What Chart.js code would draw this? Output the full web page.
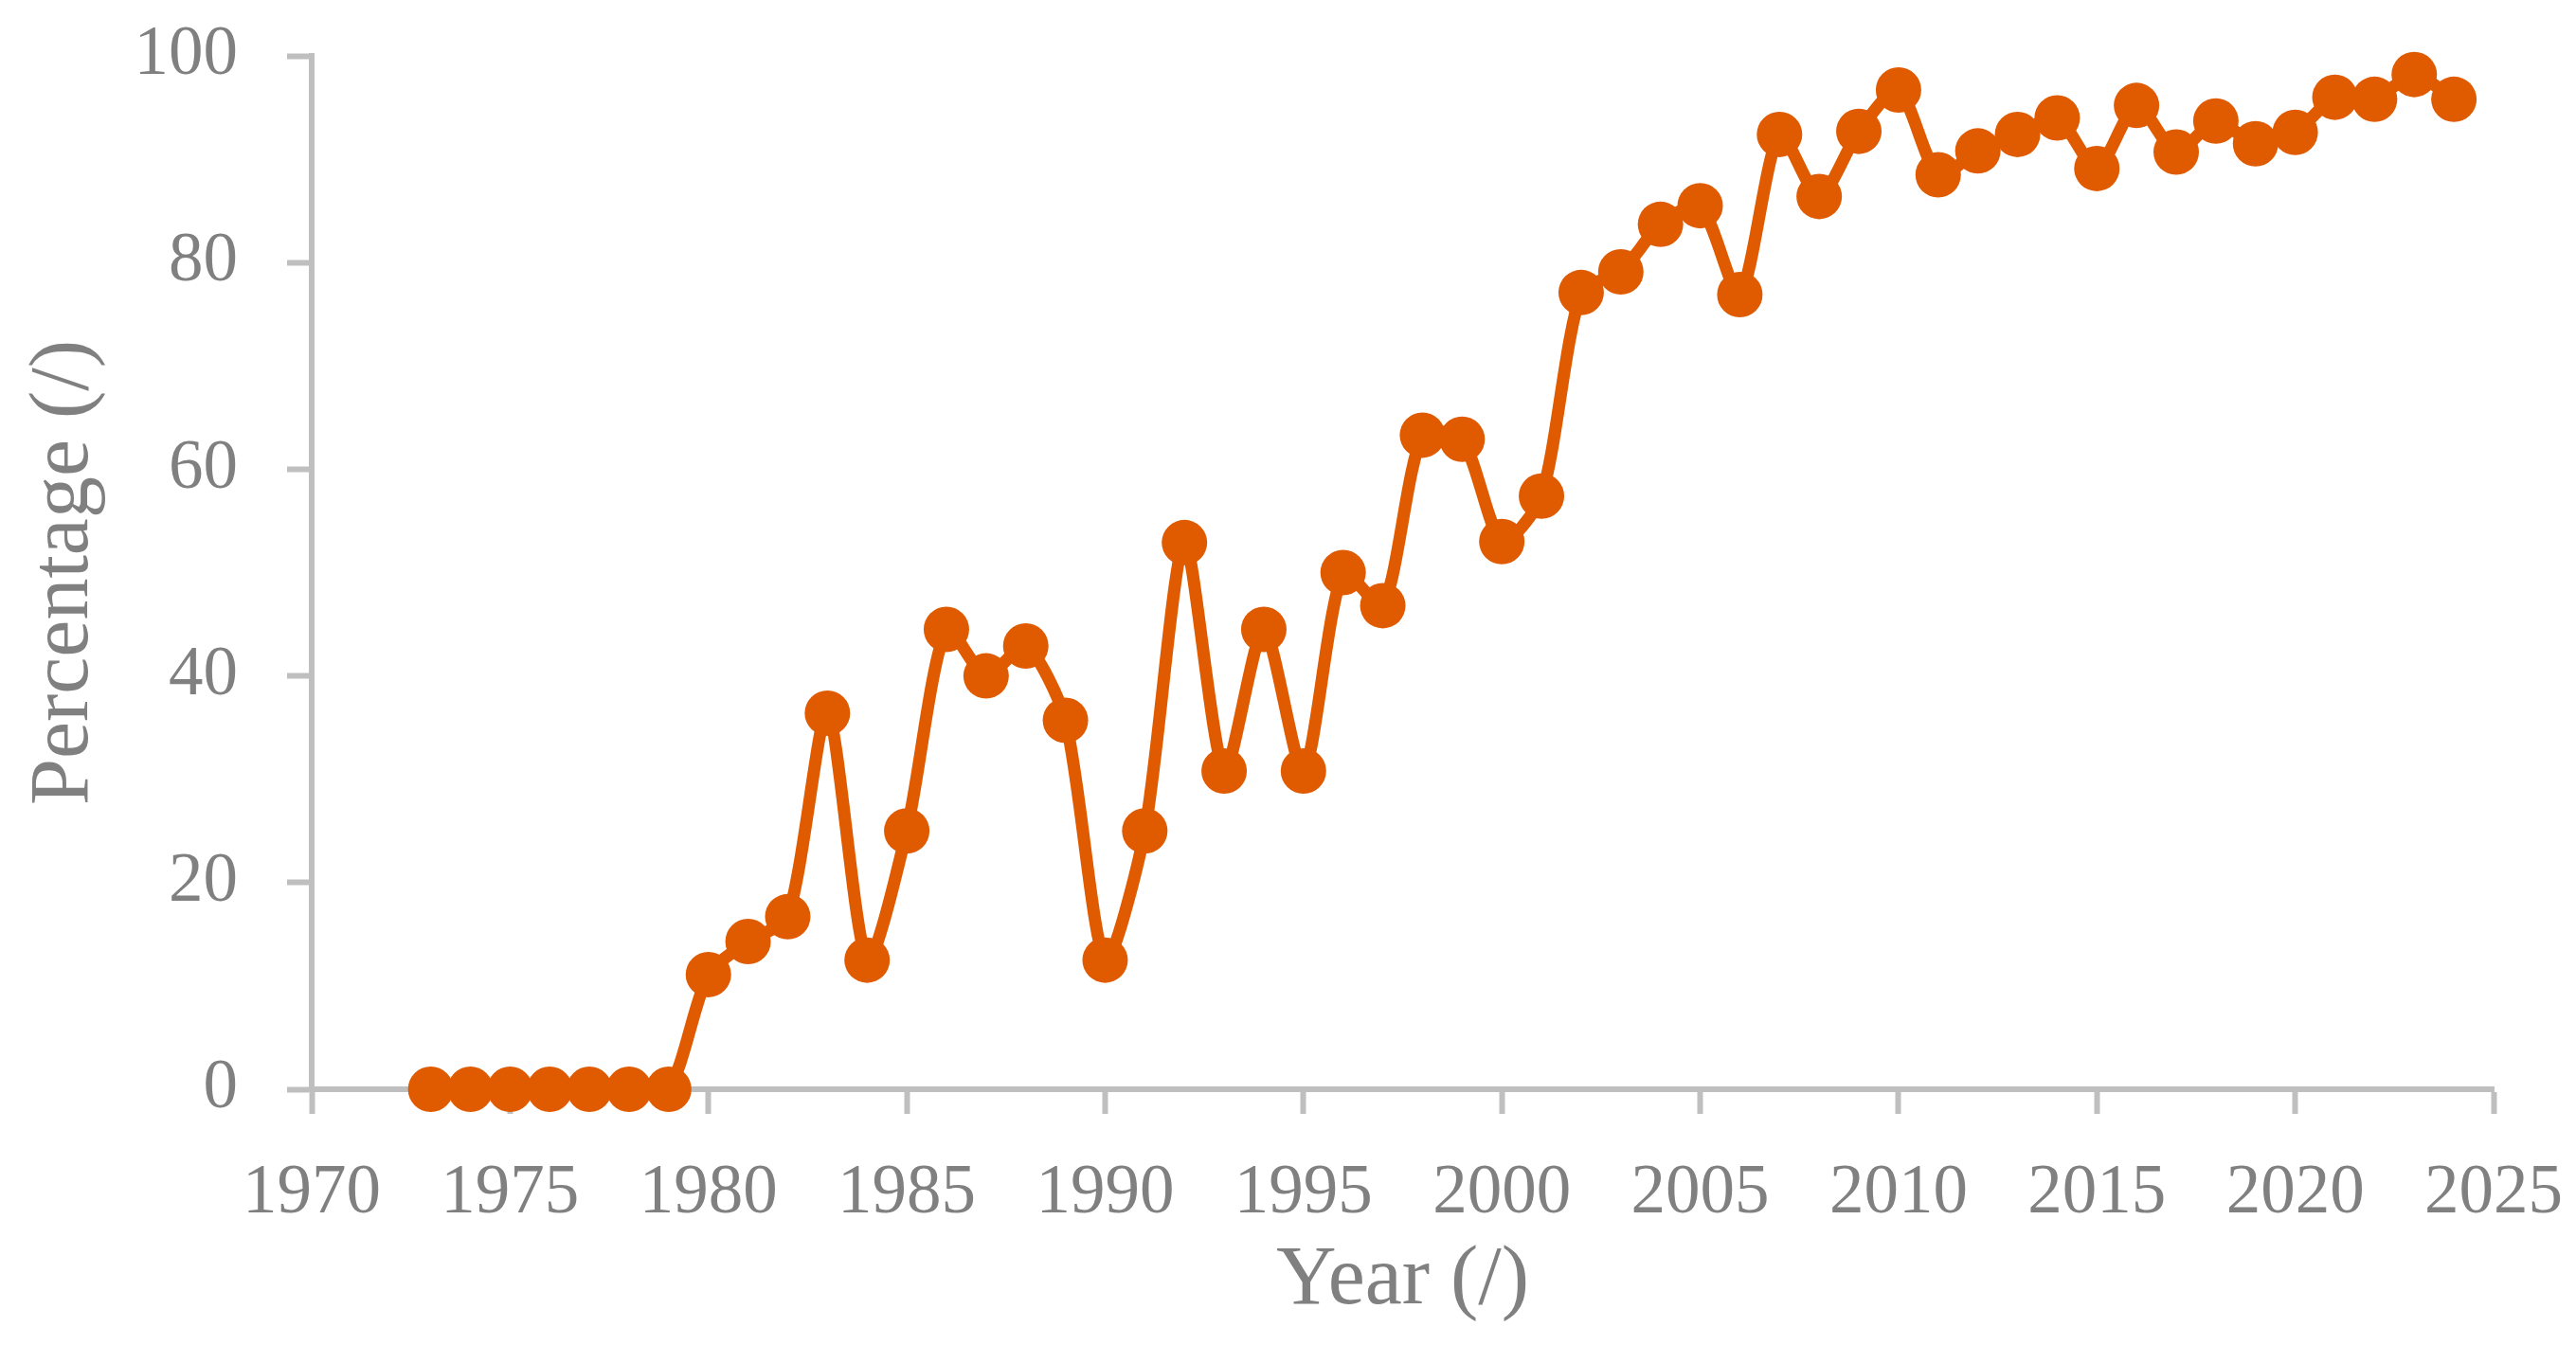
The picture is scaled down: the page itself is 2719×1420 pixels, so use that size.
<!DOCTYPE html>
<html>
<head>
<meta charset="utf-8">
<title>Percentage per year</title>
<script src="https://cdn.jsdelivr.net/npm/chart.js@4.4.1/dist/chart.umd.min.js"></script>
<style>
  html, body { margin: 0; padding: 0; background: #fff; }
  #wrap { position: relative; width: 2719px; height: 1420px; }
</style>
</head>
<body>
<div id="wrap"><canvas id="chart" width="2719" height="1420"></canvas></div>
<script>
// ---------------------------------------------------------------------------
//  Data
// ---------------------------------------------------------------------------
const years = [
  1973, 1974, 1975, 1976, 1977, 1978, 1979, 1980, 1981, 1982,
  1983, 1984, 1985, 1986, 1987, 1988, 1989, 1990, 1991, 1992,
  1993, 1994, 1995, 1996, 1997, 1998, 1999, 2000, 2001, 2002,
  2003, 2004, 2005, 2006, 2007, 2008, 2009, 2010, 2011, 2012,
  2013, 2014, 2015, 2016, 2017, 2018, 2019, 2020, 2021, 2022,
  2023, 2024,
];
const percentage = [
  0, 0, 0, 0, 0, 0, 0, 11.1, 14.3, 16.7,
  36.4, 12.5, 25.0, 44.5, 40.0, 42.9, 35.7, 12.5, 25.0, 52.9,
  30.8, 44.5, 30.8, 50.0, 46.8, 63.3, 62.9, 53.0, 57.4, 77.1,
  79.1, 83.7, 85.5, 76.9, 92.4, 86.4, 92.7, 96.7, 88.5, 90.8,
  92.4, 94.0, 89.1, 95.2, 90.7, 93.7, 91.5, 92.6, 96.0, 95.8,
  98.2, 95.8,
];
const xTicks = { min: 1970, max: 2025, step: 5 };
const yTicks = { min: 0, max: 100, step: 20 };
const xTitle = 'Year (/)';
const yTitle = 'Percentage (/)';

// ---------------------------------------------------------------------------
//  Styles
// ---------------------------------------------------------------------------
const ORANGE = '#E05A00';
const TEXT = '#808080';
const AXIS = '#BFBFBF';
const FONT = 'Liberation Serif, Times New Roman, serif';

const points = years.map((y, i) => ({ x: y, y: percentage[i] }));

// Shared axis look: outside ticks, no gridlines in the plot.
function axisGrid() {
  return { drawOnChartArea: false, drawTicks: true, tickLength: 26, tickWidth: 6, color: AXIS, tickColor: AXIS };
}

new Chart(document.getElementById('chart').getContext('2d'), {
  type: 'line',
  data: {
    datasets: [{
      data: points,
      borderColor: ORANGE,
      backgroundColor: ORANGE,
      borderWidth: 13,
      tension: 0.25,
      pointRadius: 24,
      pointHoverRadius: 24,
      pointBorderWidth: 0,
      pointBackgroundColor: ORANGE,
      clip: false,
    }],
  },
  options: {
    responsive: false,
    animation: false,
    devicePixelRatio: 1,
    // plot area: left 329, right 2632, top 59, bottom 1150
    layout: { padding: { top: 59, right: 87, bottom: 0, left: 0 } },
    plugins: { legend: { display: false }, tooltip: { enabled: false } },
    scales: {
      x: {
        type: 'linear',
        min: xTicks.min,
        max: xTicks.max,
        grid: axisGrid(),
        border: { display: true, color: AXIS, width: 6 },
        ticks: {
          stepSize: xTicks.step,
          padding: 41,
          color: TEXT,
          font: { family: FONT, size: 73 },
          maxRotation: 0,
          callback: (v) => String(v),
        },
        title: {
          display: true,
          text: xTitle,
          color: TEXT,
          font: { family: FONT, size: 88 },
          padding: { top: 0, bottom: 14 },
        },
        afterFit: (s) => { s.height = 270; s.paddingLeft = 0; s.paddingRight = 0; },
      },
      y: {
        min: yTicks.min,
        max: yTicks.max,
        grid: axisGrid(),
        border: { display: true, color: AXIS, width: 6 },
        ticks: {
          stepSize: yTicks.step,
          padding: 52,
          color: TEXT,
          font: { family: FONT, size: 73 },
          callback: (v) => String(v),
        },
        title: {
          display: true,
          text: yTitle,
          color: TEXT,
          font: { family: FONT, size: 88 },
          padding: { top: 16, bottom: 0 },
        },
        afterFit: (s) => { s.width = 329; s.paddingTop = 0; s.paddingBottom = 0; },
      },
    },
  },
});
</script>
</body>
</html>
